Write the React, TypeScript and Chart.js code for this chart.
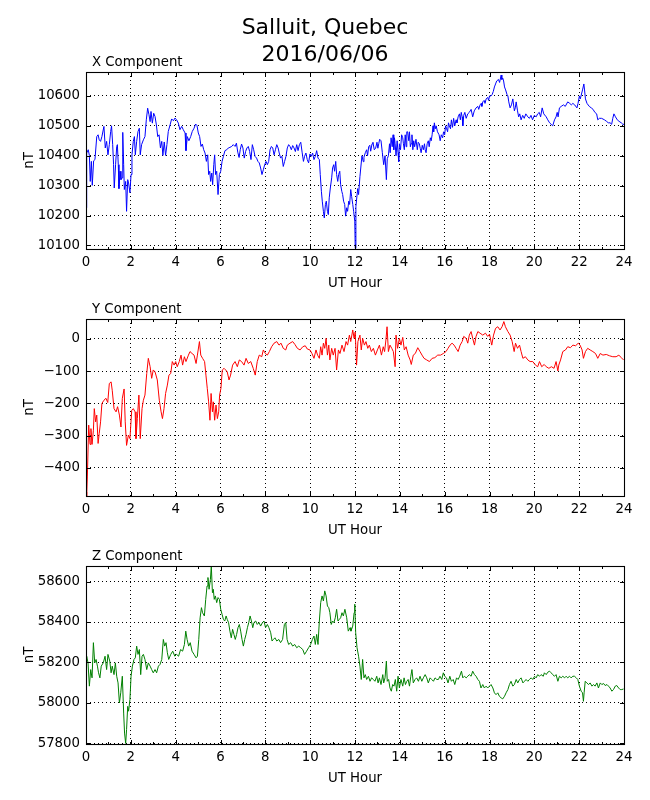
import React, { useEffect, useRef } from "react";
import { Chart, registerables } from "chart.js";

Chart.register(...registerables);

const FONT = "'DejaVu Sans', sans-serif";

const TITLE_LINES = ["Salluit, Quebec", "2016/06/06"];
const X_AXIS_LABEL = "UT Hour";
const Y_AXIS_LABEL = "nT";
const PANEL_LABELS = ["X Component", "Y Component", "Z Component"];

const HOUR_TICKS = [0, 2, 4, 6, 8, 10, 12, 14, 16, 18, 20, 22, 24];
const HOUR_MINOR_TICKS = [1, 3, 5, 7, 9, 11, 13, 15, 17, 19, 21, 23];

const X_TICKS = [10100, 10200, 10300, 10400, 10500, 10600];
const Y_TICKS = [-400, -300, -200, -100, 0];
const Z_TICKS = [57800, 58000, 58200, 58400, 58600];

const X_LIMITS: [number, number] = [10088, 10680];
const Y_LIMITS: [number, number] = [-487, 62];
const Z_LIMITS: [number, number] = [57797, 58677];

// [UT hour, nT]
const X_COMPONENT: [number, number][] = [
  [0.0, 10226], [0.03, 10409], [0.1, 10420], [0.15, 10401], [0.19, 10314], [0.24, 10381], [0.28, 10301],
  [0.34, 10383], [0.4, 10387], [0.48, 10464], [0.54, 10470], [0.59, 10453], [0.65, 10448], [0.71, 10464],
  [0.8, 10498], [0.86, 10426], [0.92, 10448], [0.98, 10403], [1.04, 10437], [1.1, 10481], [1.14, 10500],
  [1.19, 10437], [1.23, 10370], [1.26, 10292], [1.32, 10370], [1.37, 10431], [1.4, 10437], [1.44, 10370],
  [1.47, 10290], [1.52, 10348], [1.56, 10320], [1.61, 10326], [1.64, 10478], [1.68, 10370], [1.71, 10287],
  [1.77, 10314], [1.81, 10214], [1.86, 10320], [1.9, 10309], [1.96, 10276], [2.01, 10337], [2.05, 10403],
  [2.11, 10448], [2.16, 10464], [2.2, 10403], [2.26, 10448], [2.32, 10481], [2.38, 10492], [2.42, 10403],
  [2.48, 10437], [2.56, 10453], [2.63, 10464], [2.69, 10520], [2.75, 10559], [2.81, 10537], [2.86, 10514],
  [2.9, 10548], [2.96, 10509], [3.02, 10542], [3.08, 10531], [3.14, 10503], [3.2, 10464], [3.26, 10470],
  [3.32, 10426], [3.38, 10448], [3.43, 10401], [3.49, 10446], [3.55, 10401], [3.61, 10437], [3.67, 10481],
  [3.75, 10503], [3.82, 10523], [3.9, 10517], [3.97, 10526], [4.04, 10520], [4.12, 10509], [4.19, 10487],
  [4.27, 10498], [4.34, 10487], [4.42, 10476], [4.46, 10417], [4.52, 10464], [4.59, 10450], [4.67, 10464],
  [4.74, 10481], [4.82, 10492], [4.89, 10506], [4.95, 10501], [5.01, 10476], [5.07, 10464], [5.13, 10431],
  [5.19, 10439], [5.25, 10420], [5.31, 10409], [5.37, 10381], [5.43, 10403], [5.47, 10337], [5.52, 10348],
  [5.56, 10314], [5.61, 10342], [5.65, 10303], [5.7, 10370], [5.74, 10403], [5.78, 10337], [5.83, 10348],
  [5.89, 10270], [5.95, 10337], [6.01, 10348], [6.07, 10381], [6.13, 10398], [6.2, 10417], [6.28, 10420],
  [6.35, 10426], [6.42, 10428], [6.5, 10431], [6.57, 10437], [6.65, 10431], [6.71, 10442], [6.77, 10412],
  [6.83, 10394], [6.88, 10420], [6.94, 10439], [7.0, 10426], [7.06, 10392], [7.12, 10414], [7.18, 10426],
  [7.24, 10431], [7.3, 10414], [7.36, 10387], [7.42, 10437], [7.48, 10420], [7.54, 10398], [7.61, 10392],
  [7.67, 10381], [7.73, 10376], [7.79, 10359], [7.85, 10337], [7.91, 10353], [7.97, 10370], [8.03, 10381],
  [8.09, 10370], [8.15, 10381], [8.21, 10420], [8.27, 10431], [8.33, 10426], [8.39, 10403], [8.45, 10420],
  [8.51, 10437], [8.57, 10426], [8.62, 10409], [8.68, 10392], [8.74, 10398], [8.8, 10364], [8.86, 10381],
  [8.92, 10398], [8.98, 10426], [9.04, 10437], [9.1, 10431], [9.16, 10420], [9.22, 10434], [9.28, 10426],
  [9.34, 10414], [9.4, 10437], [9.46, 10417], [9.52, 10437], [9.58, 10445], [9.64, 10412], [9.7, 10381],
  [9.75, 10398], [9.81, 10409], [9.87, 10387], [9.93, 10376], [9.99, 10406], [10.05, 10398], [10.11, 10409],
  [10.17, 10387], [10.23, 10398], [10.29, 10417], [10.35, 10392], [10.41, 10387], [10.45, 10337], [10.5, 10281],
  [10.54, 10248], [10.59, 10214], [10.63, 10192], [10.68, 10237], [10.72, 10248], [10.77, 10214], [10.81, 10203],
  [10.85, 10259], [10.9, 10292], [10.96, 10326], [11.0, 10359], [11.05, 10370], [11.09, 10348], [11.14, 10381],
  [11.18, 10337], [11.23, 10314], [11.27, 10337], [11.32, 10348], [11.36, 10303], [11.41, 10281], [11.45, 10270],
  [11.49, 10248], [11.54, 10237], [11.58, 10198], [11.63, 10226], [11.67, 10214], [11.72, 10248], [11.76, 10237],
  [11.81, 10287], [11.85, 10264], [11.9, 10237], [11.94, 10214], [11.99, 10181], [12.01, 10090],
  [12.04, 10230], [12.12, 10290], [12.16, 10270], [12.22, 10330], [12.31, 10400], [12.37, 10380], [12.4, 10395],
  [12.46, 10410], [12.52, 10420], [12.56, 10400], [12.61, 10430], [12.66, 10435], [12.7, 10415], [12.76, 10440],
  [12.8, 10445], [12.86, 10420], [12.92, 10425], [12.98, 10445], [13.02, 10425], [13.06, 10440], [13.1, 10455],
  [13.16, 10450], [13.22, 10410], [13.28, 10370], [13.34, 10400], [13.4, 10320], [13.44, 10390], [13.49, 10400],
  [13.54, 10440], [13.57, 10410], [13.61, 10460], [13.66, 10430], [13.7, 10470], [13.73, 10420], [13.76, 10460],
  [13.79, 10440], [13.83, 10400], [13.88, 10450], [13.92, 10410], [13.95, 10380], [13.98, 10440], [14.03, 10420],
  [14.08, 10470], [14.13, 10460], [14.16, 10440], [14.2, 10420], [14.24, 10470], [14.28, 10430], [14.31, 10480],
  [14.35, 10480], [14.4, 10450], [14.43, 10480], [14.47, 10430], [14.5, 10440], [14.54, 10470], [14.58, 10420],
  [14.62, 10450], [14.66, 10430], [14.72, 10455], [14.78, 10420], [14.82, 10445], [14.87, 10440], [14.91, 10425],
  [14.95, 10410], [15.0, 10435], [15.05, 10420], [15.1, 10440], [15.13, 10420], [15.17, 10410], [15.22, 10440],
  [15.27, 10450], [15.31, 10430], [15.36, 10460], [15.4, 10450], [15.44, 10470], [15.48, 10500], [15.51, 10480],
  [15.54, 10510], [15.58, 10490], [15.62, 10500], [15.68, 10480], [15.75, 10470], [15.8, 10450], [15.85, 10470],
  [15.91, 10460], [15.95, 10480], [16.0, 10470], [16.04, 10500], [16.09, 10490], [16.13, 10480], [16.17, 10510],
  [16.21, 10500], [16.26, 10490], [16.3, 10520], [16.35, 10495], [16.4, 10525], [16.45, 10500], [16.51, 10520],
  [16.55, 10510], [16.6, 10530], [16.66, 10540], [16.7, 10520], [16.74, 10545], [16.78, 10530], [16.81, 10500],
  [16.85, 10535], [16.9, 10545], [16.96, 10525], [17.03, 10540], [17.1, 10545], [17.18, 10555], [17.25, 10530],
  [17.32, 10550], [17.4, 10560], [17.48, 10565], [17.52, 10555], [17.58, 10570], [17.63, 10575], [17.66, 10565],
  [17.7, 10580], [17.76, 10585], [17.8, 10575], [17.85, 10590], [17.92, 10595], [17.96, 10585], [18.0, 10600],
  [18.07, 10600], [18.12, 10605], [18.17, 10615], [18.22, 10630], [18.27, 10640], [18.32, 10650], [18.4, 10655],
  [18.45, 10645], [18.52, 10670], [18.55, 10655], [18.59, 10660], [18.63, 10650], [18.67, 10630], [18.72, 10620],
  [18.78, 10605], [18.82, 10600], [18.86, 10580], [18.92, 10560], [18.98, 10570], [19.04, 10590], [19.11, 10550],
  [19.15, 10560], [19.19, 10580], [19.25, 10550], [19.3, 10530], [19.35, 10540], [19.41, 10520], [19.48, 10535],
  [19.55, 10525], [19.62, 10540], [19.71, 10530], [19.78, 10525], [19.85, 10535], [19.92, 10520], [20.0, 10535],
  [20.08, 10530], [20.15, 10540], [20.22, 10545], [20.28, 10530], [20.35, 10560], [20.42, 10540], [20.53, 10530],
  [20.6, 10520], [20.68, 10510], [20.75, 10505], [20.82, 10500], [20.9, 10520], [20.97, 10530], [21.02, 10545],
  [21.06, 10530], [21.12, 10560], [21.2, 10565], [21.3, 10570], [21.38, 10565], [21.49, 10580], [21.58, 10575],
  [21.65, 10570], [21.72, 10575], [21.8, 10570], [21.9, 10560], [21.95, 10575], [22.01, 10600], [22.05, 10590],
  [22.15, 10620], [22.21, 10640], [22.24, 10620], [22.28, 10590], [22.35, 10575], [22.45, 10565], [22.54, 10560],
  [22.62, 10555], [22.7, 10545], [22.78, 10540], [22.83, 10520], [22.9, 10525], [23.0, 10525], [23.13, 10520],
  [23.22, 10515], [23.3, 10510], [23.38, 10510], [23.45, 10505], [23.5, 10525], [23.55, 10540], [23.62, 10530],
  [23.7, 10520], [23.78, 10515], [23.88, 10510], [23.95, 10505], [24.0, 10505],
];

const Y_COMPONENT: [number, number][] = [
  [0.0, -475], [0.03, -487], [0.06, -428], [0.12, -267], [0.18, -327], [0.22, -278], [0.27, -327], [0.33, -283],
  [0.37, -216], [0.43, -257], [0.48, -236], [0.54, -324], [0.59, -293], [0.65, -257], [0.71, -200], [0.8, -190],
  [0.89, -184], [0.97, -197], [1.04, -138], [1.12, -133], [1.17, -159], [1.25, -216], [1.34, -226], [1.41, -210],
  [1.49, -236], [1.56, -273], [1.62, -184], [1.7, -155], [1.75, -257], [1.81, -330], [1.89, -298], [1.96, -309],
  [2.04, -221], [2.11, -216], [2.19, -226], [2.23, -309], [2.29, -247], [2.36, -174], [2.42, -309], [2.5, -216],
  [2.56, -190], [2.63, -174], [2.71, -107], [2.78, -60], [2.86, -86], [2.93, -122], [3.0, -96], [3.08, -102],
  [3.18, -127], [3.27, -190], [3.35, -226], [3.41, -247], [3.48, -216], [3.55, -169], [3.63, -143], [3.7, -112],
  [3.78, -107], [3.85, -70], [3.93, -81], [4.0, -70], [4.07, -86], [4.16, -70], [4.24, -50], [4.31, -81],
  [4.39, -55], [4.46, -70], [4.57, -50], [4.64, -39], [4.73, -45], [4.82, -50], [4.91, -76], [4.97, -50],
  [5.06, -8], [5.12, -50], [5.2, -60], [5.29, -70], [5.35, -112], [5.41, -153], [5.47, -195], [5.53, -252],
  [5.58, -169], [5.64, -226], [5.68, -195], [5.74, -252], [5.8, -205], [5.86, -247], [5.92, -226], [5.96, -174],
  [6.02, -153], [6.08, -96], [6.16, -91], [6.23, -96], [6.3, -102], [6.38, -127], [6.45, -112], [6.54, -81],
  [6.65, -70], [6.75, -86], [6.84, -65], [6.94, -70], [7.05, -81], [7.14, -60], [7.24, -76], [7.35, -70],
  [7.46, -91], [7.55, -112], [7.64, -70], [7.73, -50], [7.84, -55], [7.91, -34], [8.0, -45], [8.09, -50],
  [8.18, -39], [8.28, -24], [8.39, -13], [8.51, -8], [8.61, -19], [8.7, -13], [8.8, -29], [8.91, -34],
  [8.98, -19], [9.1, -13], [9.22, -8], [9.32, -17], [9.43, -29], [9.55, -34], [9.67, -24], [9.78, -21],
  [9.87, -31], [9.99, -34], [10.08, -45], [10.17, -60], [10.26, -34], [10.33, -50], [10.41, -60], [10.47, -24],
  [10.53, -50], [10.59, -13], [10.65, -29], [10.71, 2], [10.77, -50], [10.83, -19], [10.88, -65], [10.96, -29],
  [11.03, -50], [11.11, -29], [11.18, -96], [11.26, -34], [11.33, -45], [11.42, -19], [11.51, -39], [11.6, -8],
  [11.67, -19], [11.75, 12], [11.81, -8], [11.9, 28], [11.96, 2], [12.01, 22], [12.07, -81],
  [12.13, -8], [12.22, 12], [12.28, -34], [12.34, 2], [12.42, -19], [12.49, -8], [12.57, -29], [12.64, -19],
  [12.73, -39], [12.82, -29], [12.91, -50], [13.0, -34], [13.09, -19], [13.18, -50], [13.26, -24], [13.32, -39],
  [13.38, -3], [13.43, 38], [13.49, -39], [13.56, -19], [13.64, -29], [13.71, -39], [13.79, -86], [13.83, 12],
  [13.9, -29], [13.98, 2], [14.05, -19], [14.13, 5], [14.2, -34], [14.28, -24], [14.37, -50], [14.46, -65],
  [14.51, -79], [14.6, -50], [14.69, -45], [14.8, -27], [14.9, -39], [14.99, -50], [15.08, -60], [15.2, -65],
  [15.32, -70], [15.44, -60], [15.56, -58], [15.69, -50], [15.82, -50], [15.94, -45], [16.06, -39], [16.15, -29],
  [16.24, -19], [16.33, -13], [16.42, -19], [16.51, -29], [16.6, -39], [16.69, -19], [16.78, -8], [16.85, 8],
  [16.96, 2], [17.03, -13], [17.1, 12], [17.18, 23], [17.25, 2], [17.33, -19], [17.4, 8], [17.48, 23],
  [17.58, 18], [17.7, 12], [17.82, 18], [17.92, 8], [18.0, 15], [18.1, -19], [18.18, 12], [18.27, 33],
  [18.37, 38], [18.47, 28], [18.56, 38], [18.64, 54], [18.71, 38], [18.82, 23], [18.92, 12], [19.01, -8],
  [19.1, -39], [19.16, -13], [19.25, -29], [19.34, -19], [19.41, -39], [19.49, -60], [19.6, -55], [19.71, -65],
  [19.81, -70], [19.93, -70], [20.05, -81], [20.15, -86], [20.23, -70], [20.33, -86], [20.44, -79], [20.53, -86],
  [20.65, -91], [20.76, -86], [20.88, -91], [20.97, -70], [21.05, -99], [21.09, -81], [21.17, -65], [21.27, -39],
  [21.39, -34], [21.49, -24], [21.61, -27], [21.72, -19], [21.84, -21], [21.96, -13], [22.04, -19], [22.13, -34],
  [22.19, -60], [22.28, -39], [22.38, -29], [22.49, -34], [22.61, -39], [22.73, -45], [22.83, -60], [22.94, -45],
  [23.06, -50], [23.21, -48], [23.35, -52], [23.5, -55], [23.65, -55], [23.77, -50], [23.88, -58], [23.98, -65],
];

const Z_COMPONENT: [number, number][] = [
  [0.0, 58223], [0.03, 58231], [0.09, 58198], [0.15, 58083], [0.21, 58165], [0.27, 58124], [0.33, 58298],
  [0.39, 58198], [0.45, 58215], [0.51, 58182], [0.56, 58149], [0.62, 58124], [0.68, 58182], [0.77, 58198],
  [0.85, 58231], [0.92, 58165], [0.98, 58240], [1.06, 58207], [1.12, 58149], [1.17, 58182], [1.25, 58140],
  [1.31, 58198], [1.37, 58132], [1.43, 58099], [1.49, 58000], [1.55, 58050], [1.62, 58132], [1.68, 57950],
  [1.72, 57851], [1.77, 57800], [1.81, 57868], [1.86, 57983], [1.9, 57959], [1.96, 58017], [2.01, 58132],
  [2.07, 58182], [2.14, 58215], [2.2, 58223], [2.26, 58281], [2.32, 58240], [2.38, 58264], [2.44, 58140],
  [2.5, 58231], [2.56, 58240], [2.63, 58215], [2.71, 58165], [2.78, 58198], [2.86, 58182], [2.93, 58165],
  [3.0, 58149], [3.08, 58165], [3.15, 58149], [3.23, 58182], [3.3, 58190], [3.38, 58215], [3.45, 58314],
  [3.51, 58281], [3.57, 58298], [3.63, 58248], [3.69, 58215], [3.78, 58240], [3.87, 58256], [3.96, 58231],
  [4.04, 58240], [4.13, 58231], [4.22, 58264], [4.31, 58256], [4.39, 58289], [4.45, 58355], [4.51, 58314],
  [4.58, 58281], [4.65, 58298], [4.73, 58256], [4.82, 58240], [4.91, 58223], [4.97, 58231], [5.03, 58314],
  [5.09, 58421], [5.15, 58471], [5.2, 58446], [5.28, 58430], [5.34, 58512], [5.4, 58578], [5.44, 58620],
  [5.49, 58562], [5.55, 58611], [5.59, 58677], [5.64, 58545], [5.68, 58562], [5.72, 58512], [5.77, 58529],
  [5.83, 58496], [5.89, 58521], [5.95, 58512], [6.01, 58463], [6.07, 58438], [6.13, 58413], [6.19, 58405],
  [6.25, 58430], [6.3, 58413], [6.36, 58397], [6.42, 58355], [6.48, 58322], [6.54, 58364], [6.6, 58339],
  [6.66, 58314], [6.72, 58339], [6.78, 58372], [6.84, 58388], [6.9, 58355], [6.96, 58314], [7.02, 58281],
  [7.08, 58314], [7.14, 58339], [7.2, 58372], [7.26, 58397], [7.32, 58430], [7.38, 58405], [7.44, 58372],
  [7.49, 58397], [7.57, 58405], [7.64, 58388], [7.72, 58397], [7.79, 58380], [7.87, 58397], [7.94, 58405],
  [8.01, 58372], [8.09, 58388], [8.16, 58372], [8.24, 58347], [8.3, 58306], [8.36, 58314], [8.43, 58322],
  [8.51, 58306], [8.6, 58314], [8.68, 58298], [8.77, 58314], [8.85, 58388], [8.91, 58397], [8.97, 58314],
  [9.04, 58289], [9.13, 58298], [9.22, 58281], [9.31, 58289], [9.4, 58273], [9.49, 58281], [9.58, 58273],
  [9.67, 58264], [9.75, 58240], [9.84, 58256], [9.93, 58273], [10.02, 58289], [10.1, 58314], [10.17, 58331],
  [10.23, 58289], [10.29, 58339], [10.35, 58289], [10.41, 58405], [10.47, 58496], [10.53, 58529], [10.59, 58504],
  [10.65, 58554], [10.71, 58529], [10.77, 58479], [10.83, 58471], [10.88, 58446], [10.94, 58388], [11.0, 58405],
  [11.06, 58397], [11.12, 58421], [11.18, 58463], [11.24, 58405], [11.3, 58413], [11.36, 58421], [11.42, 58446],
  [11.48, 58430], [11.55, 58463], [11.63, 58421], [11.7, 58355], [11.78, 58372],
  [11.82, 58355], [11.9, 58380], [11.96, 58446], [11.99, 58488], [12.03, 58347], [12.09, 58273], [12.16, 58231],
  [12.22, 58182], [12.28, 58116], [12.34, 58215], [12.4, 58124], [12.46, 58140], [12.52, 58116], [12.6, 58132],
  [12.67, 58107], [12.74, 58124], [12.82, 58116], [12.89, 58107], [12.97, 58132], [13.03, 58099], [13.09, 58124],
  [13.16, 58091], [13.24, 58140], [13.28, 58099], [13.34, 58124], [13.4, 58207], [13.44, 58107], [13.5, 58116],
  [13.56, 58074], [13.62, 58058], [13.68, 58091], [13.74, 58083], [13.8, 58116], [13.86, 58058], [13.92, 58132],
  [13.98, 58074], [14.05, 58116], [14.13, 58083], [14.19, 58124], [14.25, 58091], [14.31, 58107], [14.37, 58116],
  [14.43, 58083], [14.49, 58132], [14.54, 58165], [14.6, 58099], [14.68, 58116], [14.75, 58124], [14.83, 58107],
  [14.9, 58132], [14.98, 58107], [15.05, 58124], [15.13, 58140], [15.2, 58124], [15.27, 58099], [15.35, 58124],
  [15.42, 58116], [15.5, 58107], [15.57, 58124], [15.65, 58116], [15.72, 58116], [15.79, 58132], [15.87, 58116],
  [15.94, 58149], [16.0, 58132], [16.08, 58124], [16.15, 58099], [16.23, 58132], [16.3, 58107], [16.38, 58116],
  [16.45, 58091], [16.53, 58124], [16.6, 58116], [16.67, 58132], [16.75, 58157], [16.81, 58124], [16.88, 58132],
  [16.96, 58124], [17.03, 58132], [17.1, 58140], [17.18, 58132], [17.25, 58157], [17.33, 58140], [17.4, 58132],
  [17.48, 58116], [17.55, 58107], [17.62, 58074], [17.7, 58091], [17.77, 58074], [17.85, 58083], [17.92, 58074],
  [18.0, 58083], [18.07, 58091], [18.15, 58074], [18.22, 58050], [18.29, 58041], [18.37, 58050], [18.44, 58033],
  [18.52, 58025], [18.59, 58020], [18.67, 58033], [18.74, 58050], [18.82, 58066], [18.89, 58091], [18.96, 58107],
  [19.04, 58083], [19.11, 58091], [19.19, 58116], [19.26, 58099], [19.34, 58116], [19.41, 58124], [19.49, 58099],
  [19.56, 58107], [19.63, 58116], [19.71, 58107], [19.78, 58116], [19.86, 58124], [19.93, 58116], [20.01, 58132],
  [20.08, 58124], [20.15, 58140], [20.23, 58132], [20.3, 58140], [20.4, 58132], [20.45, 58149], [20.53, 58140],
  [20.6, 58152], [20.68, 58157], [20.75, 58149], [20.82, 58140], [20.9, 58132], [20.97, 58140], [21.05, 58107],
  [21.12, 58132], [21.2, 58124], [21.27, 58132], [21.35, 58124], [21.42, 58132], [21.49, 58124], [21.57, 58132],
  [21.64, 58124], [21.72, 58132], [21.79, 58132], [21.87, 58124], [21.94, 58116], [22.01, 58083], [22.09, 58058],
  [22.15, 58050], [22.19, 58008], [22.22, 58050], [22.27, 58107], [22.34, 58099], [22.42, 58091], [22.49, 58099],
  [22.57, 58083], [22.64, 58091], [22.71, 58083], [22.79, 58099], [22.86, 58074], [22.94, 58099], [23.01, 58091],
  [23.09, 58096], [23.16, 58086], [23.24, 58091], [23.31, 58083], [23.38, 58074], [23.46, 58058], [23.53, 58066],
  [23.61, 58083], [23.68, 58086], [23.76, 58074], [23.83, 58066], [23.9, 58066], [23.98, 58069],
];

interface PanelSpec {
  id: string;
  label: string;
  series: [number, number][];
  color: string;
  ticks: number[];
  limits: [number, number];
  top: number;
  height: number;
  padTop: number;
  withTitle: boolean;
}

const PANELS: PanelSpec[] = [
  { id: "x", label: PANEL_LABELS[0], series: X_COMPONENT, color: "#0000ff", ticks: X_TICKS, limits: X_LIMITS, top: 0, height: 300, padTop: 72, withTitle: true },
  { id: "y", label: PANEL_LABELS[1], series: Y_COMPONENT, color: "#ff0000", ticks: Y_TICKS, limits: Y_LIMITS, top: 300, height: 247, padTop: 19, withTitle: false },
  { id: "z", label: PANEL_LABELS[2], series: Z_COMPONENT, color: "#008000", ticks: Z_TICKS, limits: Z_LIMITS, top: 547, height: 248, padTop: 19, withTitle: false },
];

const fmt = (v: number) => (v < 0 ? "\u2212" + Math.abs(v) : String(v));

const framePlugin = {
  id: "mplFrame",
  afterDraw(chart: any, _args: any, opts: any) {
    const { ctx, chartArea } = chart;
    const { left, right, top, bottom } = chartArea;
    const xs = chart.scales.x;
    const ys = chart.scales.y;
    const L = Math.round(left) + 0.5;
    const R = Math.round(right) + 0.5;
    const T = Math.round(top) + 0.5;
    const B = Math.round(bottom) + 0.5;
    ctx.save();
    ctx.strokeStyle = "#000";
    ctx.lineWidth = 1;
    ctx.beginPath();
    for (const t of xs.ticks) {
      const p = Math.round(xs.getPixelForValue(t.value)) + 0.5;
      ctx.moveTo(p, B); ctx.lineTo(p, B - 4.5);
      ctx.moveTo(p, T); ctx.lineTo(p, T + 4.5);
    }
    for (const v of opts.xMinor || []) {
      const p = Math.round(xs.getPixelForValue(v)) + 0.5;
      ctx.moveTo(p, B); ctx.lineTo(p, B - 2.5);
      ctx.moveTo(p, T); ctx.lineTo(p, T + 2.5);
    }
    for (const t of ys.ticks) {
      const p = Math.round(ys.getPixelForValue(t.value)) + 0.5;
      ctx.moveTo(L, p); ctx.lineTo(L + 4.5, p);
      ctx.moveTo(R, p); ctx.lineTo(R - 4.5, p);
    }
    ctx.stroke();
    ctx.lineWidth = 1.1;
    ctx.strokeRect(L, T, R - L, B - T);
    ctx.fillStyle = "#000";
    ctx.textBaseline = "alphabetic";
    ctx.font = `13.3px ${FONT}`;
    ctx.textAlign = "left";
    ctx.fillText(opts.label, left + 6, top - 6.5);
    if (opts.title && opts.title.length) {
      ctx.font = `22px ${FONT}`;
      ctx.textAlign = "center";
      const cx = chart.width / 2;
      opts.title.forEach((line: string, i: number) => {
        ctx.fillText(line, cx, 34.3 + i * 27);
      });
    }
    ctx.restore();
  },
};

function buildConfig(spec: PanelSpec): any {
  const font = { family: FONT, size: 13.3, lineHeight: 1.2 };
  const points = spec.series
    .slice()
    .sort((a, b) => a[0] - b[0])
    .map(([h, v]) => ({ x: h, y: v }));
  return {
    type: "line",
    data: {
      datasets: [
        {
          data: points,
          borderColor: spec.color,
          borderWidth: 1,
          pointRadius: 0,
          tension: 0,
          fill: false,
        },
      ],
    },
    options: {
      responsive: false,
      animation: false,
      events: [],
      layout: { padding: { top: spec.padTop, right: 26, bottom: 0, left: 0 } },
      plugins: {
        legend: { display: false },
        tooltip: { enabled: false },
        title: { display: false },
        mplFrame: {
          label: spec.label,
          xMinor: HOUR_MINOR_TICKS,
          title: spec.withTitle ? TITLE_LINES : [],
        },
      },
      scales: {
        x: {
          type: "linear",
          min: 0,
          max: 24,
          bounds: "data",
          afterBuildTicks: (s: any) => {
            s.ticks = HOUR_TICKS.map((v) => ({ value: v }));
          },
          afterFit: (s: any) => {
            s.height = 51;
          },
          ticks: {
            color: "#000",
            font,
            padding: 6,
            maxRotation: 0,
            autoSkip: false,
            callback: (v: any) => fmt(Number(v)),
          },
          grid: { color: "#000", lineWidth: 1, drawTicks: false },
          border: { display: false, dash: [1, 3] },
          title: {
            display: true,
            text: X_AXIS_LABEL,
            color: "#000",
            font,
            padding: { top: 0, bottom: 8.3 },
          },
        },
        y: {
          type: "linear",
          min: spec.limits[0],
          max: spec.limits[1],
          bounds: "data",
          afterBuildTicks: (s: any) => {
            s.ticks = spec.ticks.map((v) => ({ value: v }));
          },
          afterFit: (s: any) => {
            s.width = 86;
          },
          ticks: {
            color: "#000",
            font,
            padding: 6,
            autoSkip: false,
            callback: (v: any) => fmt(Number(v)),
          },
          grid: { color: "#000", lineWidth: 1, drawTicks: false },
          border: { display: false, dash: [1, 3] },
          title: {
            display: true,
            text: Y_AXIS_LABEL,
            color: "#000",
            font,
            padding: { top: 21.5, bottom: 0 },
          },
        },
      },
    },
    plugins: [framePlugin],
  };
}

function Panel({ spec }: { spec: PanelSpec }) {
  const ref = useRef<HTMLCanvasElement | null>(null);
  useEffect(() => {
    if (!ref.current) return;
    const chart = new Chart(ref.current, buildConfig(spec));
    return () => chart.destroy();
  }, [spec]);
  return (
    <canvas
      ref={ref}
      width={650}
      height={spec.height}
      style={{ position: "absolute", left: 0, top: spec.top, width: 650, height: spec.height, display: "block" }}
    />
  );
}

export default function App() {
  return (
    <div style={{ position: "absolute", left: 0, top: 0, width: 650, height: 800, background: "#fff" }}>
      {PANELS.map((p) => (
        <Panel key={p.id} spec={p} />
      ))}
    </div>
  );
}
